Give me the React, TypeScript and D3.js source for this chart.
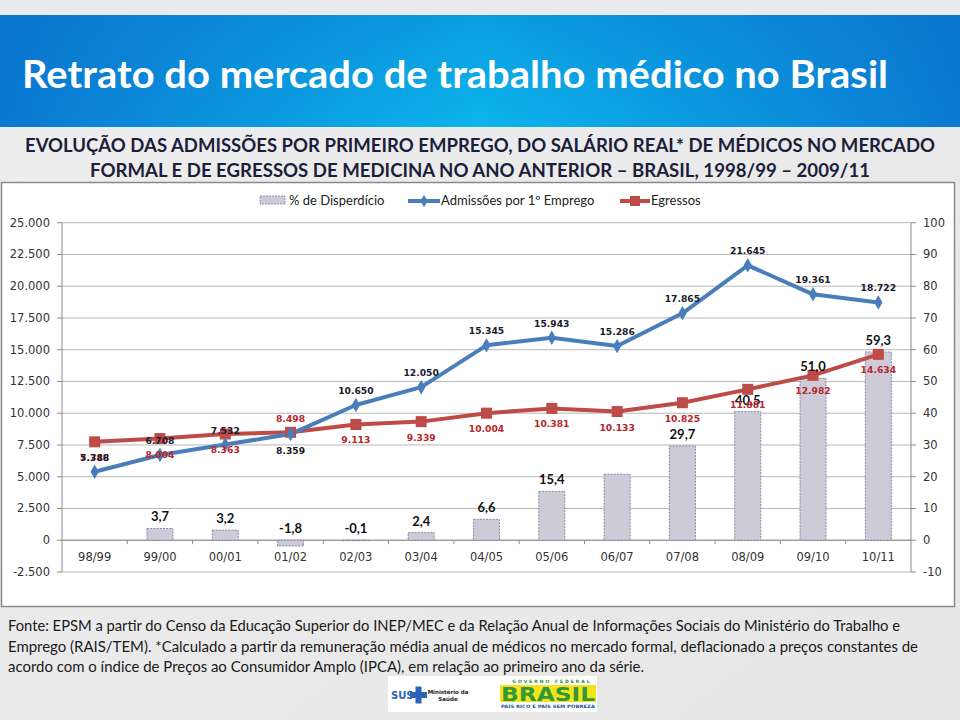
import React from "react";
import * as d3 from "d3";

const categories = ["98/99", "99/00", "00/01", "01/02", "02/03", "03/04", "04/05", "05/06", "06/07", "07/08", "08/09", "09/10", "10/11"];
const admissoes = [5388, 6708, 7532, 8359, 10650, 12050, 15345, 15943, 15286, 17865, 21645, 19361, 18722];
const egressos = [7746, 8004, 8363, 8498, 9113, 9339, 10004, 10381, 10133, 10825, 11881, 12982, 14634];
const disperdicio: (number | null)[] = [null, 3.7, 3.2, -1.8, -0.1, 2.4, 6.6, 15.4, 20.8, 29.7, 40.5, 51.0, 59.3];
const disperdicioLabeled = [false, true, true, true, true, true, true, true, false, true, true, true, true];
const leftTicks = [-2500, 0, 2500, 5000, 7500, 10000, 12500, 15000, 17500, 20000, 22500, 25000];
const rightTicks = [-10, 0, 10, 20, 30, 40, 50, 60, 70, 80, 90, 100];
const swappedLabels = ["01/02"];

const legendNames = ["% de Disperdício", "Admissões por 1º Emprego", "Egressos"];
const titleText = "Retrato do mercado de trabalho médico no Brasil";
const subtitleLines = [
  "EVOLUÇÃO DAS ADMISSÕES POR PRIMEIRO EMPREGO, DO SALÁRIO REAL* DE MÉDICOS NO MERCADO",
  "FORMAL E DE EGRESSOS DE MEDICINA NO ANO ANTERIOR – BRASIL, 1998/99 – 2009/11",
];
const footerLines = [
  "Fonte: EPSM a partir do Censo da Educação Superior do INEP/MEC e da Relação Anual de Informações Sociais do Ministério do Trabalho e",
  "Emprego (RAIS/TEM). *Calculado a partir da remuneração média anual de médicos no mercado formal, deflacionado a preços constantes de",
  "acordo com o índice de Preços ao Consumidor Amplo (IPCA), em relação ao primeiro ano da série.",
];

const locale = d3.formatLocale({ decimal: ",", thousands: ".", grouping: [3], currency: ["R$", ""], minus: "-" });
const fmtInt = locale.format(",d");
const fmtPct = locale.format(",.1f");

const BLUE = "#4a7ebb";
const RED = "#be4b48";
const TICK_FONT = "DejaVu Sans";
const CAL = "Lato";

export default function App() {
  const W = 960, H = 720;
  const plotL = 62, plotR = 911, plotT = 222.7, plotB = 572;
  const x = d3.scaleBand<string>().domain(categories).range([plotL, plotR]);
  const yL = d3.scaleLinear().domain([-2500, 25000]).range([plotB, plotT]);
  const yR = d3.scaleLinear().domain([-10, 100]).range([plotB, plotT]);
  const cx = (c: string) => (x(c) as number) + x.bandwidth() / 2;
  const barW = 26;

  const blueLine = d3.line<number>().x((_, i) => cx(categories[i])).y((d) => yL(d));
  const redLine = d3.line<number>().x((_, i) => cx(categories[i])).y((d) => yL(d));

  const y0 = yL(0);

  return (
    <svg width={W} height={H} style={{ position: "absolute", left: 0, top: 0 }} xmlns="http://www.w3.org/2000/svg">
      <defs>
        <linearGradient id="banner" x1="0" x2="1" y1="0" y2="0">
          <stop offset="0" stopColor="#0a78d1" />
          <stop offset="0.5" stopColor="#0cb6ec" />
          <stop offset="1" stopColor="#0a7ad2" />
        </linearGradient>
        <linearGradient id="bannerV" x1="0" x2="0" y1="0" y2="1">
          <stop offset="0" stopColor="#0a6fc9" stopOpacity="0.35" />
          <stop offset="1" stopColor="#0a6fc9" stopOpacity="0" />
        </linearGradient>
        <linearGradient id="pagebg" x1="0" x2="1" y1="0" y2="1">
          <stop offset="0" stopColor="#eeeeee" />
          <stop offset="1" stopColor="#e6e6e6" />
        </linearGradient>
      </defs>

      <rect x={0} y={0} width={W} height={H} fill="url(#pagebg)" />
      <rect x={0} y={0} width={W} height={14} fill="#e8eaec" />
      <rect x={0} y={15} width={W} height={112} fill="url(#banner)" />
      <rect x={0} y={15} width={W} height={112} fill="url(#bannerV)" />
      <text x={22} y={88} fill="#ffffff" fontFamily={CAL} fontWeight="bold" fontSize={38} textLength={866} lengthAdjust="spacingAndGlyphs">
        {titleText}
      </text>

      {subtitleLines.map((s, i) => (
        <text key={i} x={480} y={152 + i * 25} textAnchor="middle" fill="#1c1f3b" fontFamily={CAL} fontWeight="bold" fontSize={18.5}
          textLength={i === 0 ? 910 : 780} lengthAdjust="spacingAndGlyphs">
          {s}
        </text>
      ))}

      {/* chart box */}
      <rect x={1.5} y={182.5} width={953} height={424} fill="#ffffff" stroke="#8a8a8a" strokeWidth={1.5} />

      {/* legend */}
      <g fontFamily={CAL} fontSize={13} fill="#222">
        <rect x={260} y={196} width={25} height={8} fill="#cdcbd8" stroke="#8080a0" strokeDasharray="2,1" strokeWidth={0.8} />
        <text x={289} y={205}>{legendNames[0]}</text>
        <line x1={408} x2={440} y1={201} y2={201} stroke={BLUE} strokeWidth={4} />
        <path d={d3.symbol(d3.symbolDiamond, 45)() as string} transform="translate(424,201)" fill={BLUE} />
        <text x={441} y={205}>{legendNames[1]}</text>
        <line x1={620} x2={650} y1={201} y2={201} stroke={RED} strokeWidth={4} />
        <rect x={630} y={196} width={10} height={10} fill={RED} />
        <text x={651} y={205}>{legendNames[2]}</text>
      </g>

      {/* gridlines */}
      {leftTicks.map((t) => (
        <line key={t} x1={plotL} x2={plotR} y1={yL(t)} y2={yL(t)} stroke="#b8b8b8" strokeWidth={1} />
      ))}

      {/* axes */}
      <line x1={plotL} x2={plotL} y1={plotT} y2={plotB} stroke="#8c8c8c" strokeWidth={1} />
      <line x1={plotR} x2={plotR} y1={plotT} y2={plotB} stroke="#8c8c8c" strokeWidth={1} />
      {leftTicks.map((t) => (
        <g key={"l" + t}>
          <line x1={plotL - 5} x2={plotL} y1={yL(t)} y2={yL(t)} stroke="#8c8c8c" />
          <text x={plotL - 12} y={yL(t) + 4} textAnchor="end" fontFamily={TICK_FONT} fontSize={11.5} fill="#333">{fmtInt(t)}</text>
        </g>
      ))}
      {rightTicks.map((t) => (
        <g key={"r" + t}>
          <line x1={plotR} x2={plotR + 5} y1={yR(t)} y2={yR(t)} stroke="#8c8c8c" />
          <text x={plotR + 12} y={yR(t) + 4} textAnchor="start" fontFamily={TICK_FONT} fontSize={11.5} fill="#333">{fmtInt(t)}</text>
        </g>
      ))}
      {/* category axis at zero */}
      <line x1={plotL} x2={plotR} y1={y0} y2={y0} stroke="#8c8c8c" />
      {categories.map((c, i) => (
        <g key={"c" + c}>
          {i > 0 && <line x1={x(c)} x2={x(c)} y1={y0} y2={y0 + 4} stroke="#8c8c8c" />}
          <text x={cx(c)} y={y0 + 21} textAnchor="middle" fontFamily={TICK_FONT} fontSize={11.5} fill="#333">{c}</text>
        </g>
      ))}

      {/* bars */}
      {disperdicio.map((v, i) => {
        if (v === null) return null;
        const c = categories[i];
        const top = Math.min(yR(v), yR(0));
        const h = Math.abs(yR(v) - yR(0));
        return (
          <rect key={"b" + c} x={cx(c) - barW / 2} y={top} width={barW} height={Math.max(h, 0.5)} fill="#cdcbd8" stroke="#7f7f9e" strokeWidth={0.9} strokeDasharray="2,1.2" />
        );
      })}

      {/* lines */}
      <path d={redLine(egressos) as string} fill="none" stroke={RED} strokeWidth={4} strokeLinejoin="round" />
      <path d={blueLine(admissoes) as string} fill="none" stroke={BLUE} strokeWidth={4} strokeLinejoin="round" />
      {egressos.map((v, i) => (
        <rect key={"rm" + i} x={cx(categories[i]) - 5.5} y={yL(v) - 5.5} width={11} height={11} fill={RED} />
      ))}
      {admissoes.map((v, i) => (
        <path key={"bm" + i} d={d3.symbol(d3.symbolDiamond, 60)() as string} transform={`translate(${cx(categories[i])},${yL(v)})`} fill={BLUE} />
      ))}

      {/* bar labels */}
      {disperdicio.map((v, i) => {
        if (v === null || !disperdicioLabeled[i]) return null;
        const c = categories[i];
        const top = Math.min(yR(v), yR(0));
        return (
          <text key={"bl" + c} x={cx(c)} y={top - 7} textAnchor="middle" fontFamily={CAL} fontWeight="bold" fontSize={13} fill="#111">{fmtPct(v)}</text>
        );
      })}

      {/* line labels */}
      {egressos.map((v, i) => {
        const c = categories[i];
        const sw = swappedLabels.includes(c);
        return (
          <text key={"rl" + c} x={cx(c)} y={sw ? yL(v) - 10 : yL(v) + 19} textAnchor="middle" fontFamily={TICK_FONT} fontWeight="bold" fontSize={9.2} fill="#b8262b">{fmtInt(v)}</text>
        );
      })}
      {admissoes.map((v, i) => {
        const c = categories[i];
        const sw = swappedLabels.includes(c);
        return (
          <text key={"al" + c} x={cx(c)} y={sw ? yL(v) + 20 : yL(v) - 11} textAnchor="middle" fontFamily={TICK_FONT} fontWeight="bold" fontSize={9.2} fill="#1a1a2a">{fmtInt(v)}</text>
        );
      })}

      {/* footer */}
      {footerLines.map((s, i) => (
        <text key={"f" + i} x={8} y={631 + i * 20.5} fontFamily={CAL} fontSize={15} fill="#1a1a1a"
          textLength={i === 0 ? 892 : i === 1 ? 910 : 636} lengthAdjust="spacingAndGlyphs">{s}</text>
      ))}

      {/* logos */}
      <g>
        <rect x={388} y={676} width={209} height={36} fill="#ffffff" />
        <text x={391} y={699} fontFamily="DejaVu Sans" fontWeight="bold" fontSize={10} fill="#2a63b8">SUS</text>
        <rect x={410} y={692} width={17} height={6} fill="#2a63b8" />
        <rect x={415.5} y={686.5} width={6} height={17} fill="#2a63b8" />
        <text x={448} y={694} textAnchor="middle" fontFamily="DejaVu Sans" fontWeight="bold" fontSize={5.5} fill="#222">Ministério da</text>
        <text x={448} y={701} textAnchor="middle" fontFamily="DejaVu Sans" fontWeight="bold" fontSize={5.5} fill="#222">Saúde</text>
        <text x={552} y={683} textAnchor="middle" fontFamily="DejaVu Sans" fontWeight="bold" fontSize={4.5} fill="#2f8b2f" letterSpacing={2}>GOVERNO FEDERAL</text>
        <rect x={500} y={685} width={96} height={17} fill="#f5e21a" />
        <text x={548} y={701} textAnchor="middle" fontFamily="DejaVu Sans" fontWeight="bold" fontSize={19} fill="#2e9a3a" textLength={94} lengthAdjust="spacingAndGlyphs">BRASIL</text>
        <text x={548} y={708} textAnchor="middle" fontFamily="DejaVu Sans" fontWeight="bold" fontSize={4.5} fill="#1f4fa0" textLength={94} lengthAdjust="spacingAndGlyphs">PAÍS RICO É PAÍS SEM POBREZA</text>
      </g>
    </svg>
  );
}
